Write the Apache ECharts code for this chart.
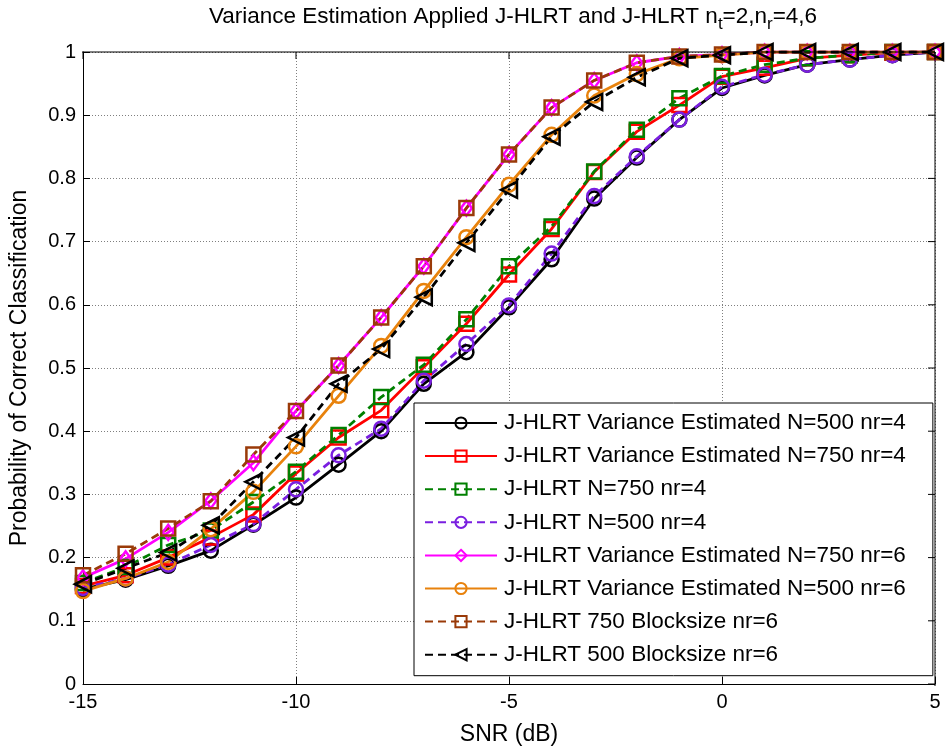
<!DOCTYPE html>
<html>
<head>
<meta charset="utf-8">
<script src="https://cdn.jsdelivr.net/npm/echarts@6/dist/echarts.min.js"></script>
<style>
  html, body { margin: 0; padding: 0; background: #fff; }
  #chart { width: 945px; height: 751px; }
</style>
</head>
<body>
<div id="chart"></div>
<script>
// SNR sweep (dB)
const snr = [-15, -14, -13, -12, -11, -10, -9, -8, -7, -6, -5, -4, -3, -2, -1, 0, 1, 2, 3, 4, 5];

// Probability of correct classification per configuration
const veN500nr4 = [0.150, 0.165, 0.187, 0.211, 0.252, 0.295, 0.347, 0.400, 0.475, 0.525, 0.596, 0.672, 0.768, 0.833, 0.893, 0.943, 0.963, 0.980, 0.988, 0.995, 1.000];
const veN750nr4 = [0.155, 0.172, 0.200, 0.232, 0.268, 0.333, 0.390, 0.433, 0.501, 0.570, 0.648, 0.720, 0.810, 0.874, 0.916, 0.961, 0.975, 0.990, 0.995, 0.999, 1.000];
const jN750nr4  = [0.160, 0.185, 0.220, 0.243, 0.288, 0.336, 0.394, 0.454, 0.505, 0.577, 0.661, 0.724, 0.811, 0.877, 0.927, 0.962, 0.980, 0.990, 0.995, 1.000, 1.000];
const jN500nr4  = [0.152, 0.167, 0.189, 0.220, 0.253, 0.308, 0.362, 0.404, 0.480, 0.538, 0.599, 0.681, 0.772, 0.835, 0.893, 0.945, 0.964, 0.980, 0.988, 0.995, 1.000];
const veN750nr6 = [0.168, 0.198, 0.240, 0.290, 0.350, 0.432, 0.504, 0.580, 0.661, 0.753, 0.838, 0.912, 0.955, 0.983, 0.993, 0.996, 1.000, 1.000, 1.000, 1.000, 1.000];
const veN500nr6 = [0.147, 0.167, 0.193, 0.245, 0.304, 0.376, 0.456, 0.535, 0.622, 0.707, 0.790, 0.869, 0.931, 0.965, 0.990, 0.995, 1.000, 1.000, 1.000, 1.000, 1.000];
const blk750nr6 = [0.172, 0.206, 0.246, 0.289, 0.363, 0.432, 0.504, 0.580, 0.661, 0.753, 0.838, 0.912, 0.955, 0.983, 0.993, 0.996, 1.000, 1.000, 1.000, 1.000, 1.000];
const blk500nr6 = [0.158, 0.183, 0.208, 0.251, 0.320, 0.390, 0.475, 0.530, 0.612, 0.698, 0.782, 0.866, 0.921, 0.960, 0.990, 0.995, 1.000, 1.000, 1.000, 1.000, 1.000];

const xTicks = [-15, -10, -5, 0, 5];
const yTicks = [0, 0.1, 0.2, 0.3, 0.4, 0.5, 0.6, 0.7, 0.8, 0.9, 1];

const FONT = 'Liberation Sans, Arial, sans-serif';

function curve(name, values, color, symbol, dashed, extra) {
  return Object.assign({
    name: name,
    type: 'line',
    data: snr.map((x, i) => [x, values[i]]),
    symbol: symbol,
    symbolSize: 14,
    color: color,
    lineStyle: { color: color, width: 2.8, type: dashed ? [8, 5] : 'solid' },
    itemStyle: { color: 'rgba(0,0,0,0)', borderColor: color, borderWidth: 2.5 },
    emphasis: { disabled: true },
    animation: false
  }, extra || {});
}

const series = [
  curve('J-HLRT Variance Estimated N=500 nr=4', veN500nr4, '#000000', 'circle', false),
  curve('J-HLRT Variance Estimated N=750 nr=4', veN750nr4, '#ff0000', 'rect', false),
  curve('J-HLRT N=750 nr=4', jN750nr4, '#008000', 'rect', true),
  curve('J-HLRT N=500 nr=4', jN500nr4, '#7a1fe0', 'circle', true),
  curve('J-HLRT Variance Estimated N=750 nr=6', veN750nr6, '#ff00ff', 'diamond', false, { symbolSize: [11, 15] }),
  curve('J-HLRT Variance Estimated N=500 nr=6', veN500nr6, '#e8820c', 'circle', false),
  curve('J-HLRT 750 Blocksize nr=6', blk750nr6, '#9a3a08', 'rect', true),
  curve('J-HLRT 500 Blocksize nr=6', blk500nr6, '#000000', 'triangle', true, { symbolRotate: 90, symbolSize: 16 })
];

const chart = echarts.init(document.getElementById('chart'), null, { renderer: 'canvas' });
chart.setOption({
  backgroundColor: '#ffffff',
  title: {
    text: '{a|Variance Estimation Applied J-HLRT and J-HLRT n}{s|t}{a|=2,n}{s|r}{a|=4,6}',
    left: 508,
    textAlign: 'center',
    top: 0,
    textStyle: {
      fontWeight: 'normal',
      rich: {
        a: { fontFamily: FONT, fontSize: 22.5, fontWeight: 'normal', color: '#000', verticalAlign: 'top', lineHeight: 28 },
        s: { fontFamily: FONT, fontSize: 17, fontWeight: 'normal', color: '#000', verticalAlign: 'top', padding: [11, 0, 0, 0], lineHeight: 28 }
      }
    }
  },
  grid: { left: 82, right: 10, top: 52, bottom: 65, containLabel: false },
  xAxis: {
    type: 'value',
    min: -15, max: 5, interval: 5,
    name: 'SNR (dB)',
    nameLocation: 'middle',
    nameGap: 39,
    nameTextStyle: { fontFamily: FONT, fontSize: 23, color: '#000' },
    axisLine: { onZero: false, lineStyle: { color: '#000', width: 1 } },
    axisTick: { inside: true, length: 7, lineStyle: { color: '#000' } },
    axisLabel: { fontFamily: FONT, fontSize: 20, color: '#000', margin: 8 },
    splitLine: { show: true, lineStyle: { color: '#7f7f7f', type: [1, 2], width: 1 } }
  },
  yAxis: {
    type: 'value',
    min: 0, max: 1, interval: 0.1,
    name: 'Probability of Correct Classification',
    nameLocation: 'middle',
    nameGap: 52,
    nameTextStyle: { fontFamily: FONT, fontSize: 23, color: '#000' },
    axisLine: { onZero: false, lineStyle: { color: '#000', width: 1 } },
    axisTick: { inside: true, length: 7, lineStyle: { color: '#000' } },
    axisLabel: {
      fontFamily: FONT, fontSize: 20, color: '#000', margin: 7,
      formatter: v => String(parseFloat(v.toFixed(1)))
    },
    splitLine: { show: true, lineStyle: { color: '#7f7f7f', type: [1, 2], width: 1 } }
  },
  legend: {
    orient: 'vertical',
    left: 414,
    top: 403,
    padding: [8, 27, 9, 10],
    backgroundColor: '#ffffff',
    borderColor: '#000',
    borderWidth: 1,
    itemWidth: 72,
    itemHeight: 14,
    itemGap: 9.1,
    selectedMode: false,
    textStyle: { fontFamily: FONT, fontSize: 22.5, color: '#000', lineHeight: 24, padding: [0, 0, 0, 2] },
    data: series.map(s => s.name)
  },
  series: series
});

// close the plot box on the top and right edges, with inward ticks
const gridRect = { x: 82, y: 52, w: 945 - 82 - 10, h: 751 - 52 - 65 };
const zr = chart.getZr();
const frame = [];
frame.push(new echarts.graphic.Line({ shape: { x1: gridRect.x, y1: gridRect.y, x2: gridRect.x + gridRect.w, y2: gridRect.y }, style: { stroke: '#000', lineWidth: 1 }, z: 50 }));
frame.push(new echarts.graphic.Line({ shape: { x1: gridRect.x + gridRect.w, y1: gridRect.y, x2: gridRect.x + gridRect.w, y2: gridRect.y + gridRect.h }, style: { stroke: '#000', lineWidth: 1 }, z: 50 }));
xTicks.forEach(t => {
  const px = chart.convertToPixel({ xAxisIndex: 0 }, t);
  frame.push(new echarts.graphic.Line({ shape: { x1: px, y1: gridRect.y, x2: px, y2: gridRect.y + 7 }, style: { stroke: '#000', lineWidth: 1 }, z: 50 }));
});
yTicks.forEach(t => {
  const py = chart.convertToPixel({ yAxisIndex: 0 }, t);
  frame.push(new echarts.graphic.Line({ shape: { x1: gridRect.x + gridRect.w, y1: py, x2: gridRect.x + gridRect.w - 7, y2: py }, style: { stroke: '#000', lineWidth: 1 }, z: 50 }));
});
frame.forEach(el => zr.add(el));
</script>
</body>
</html>
